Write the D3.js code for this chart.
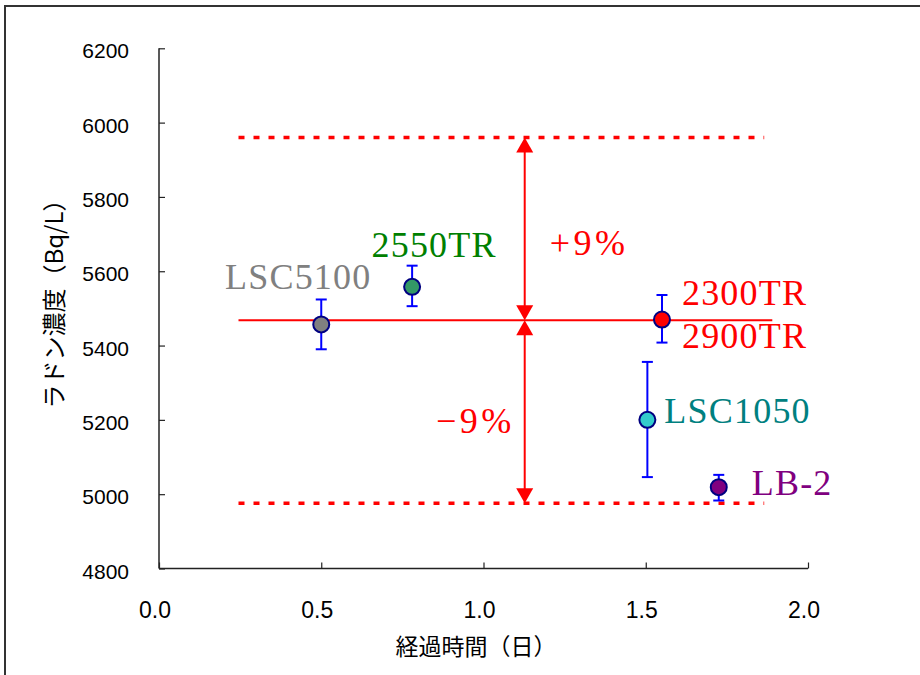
<!DOCTYPE html>
<html><head><meta charset="utf-8">
<script src="https://cdn.jsdelivr.net/npm/d3@7"></script>
<style>body{margin:0;background:#fff;} svg{display:block;}</style>
</head><body>
<svg id="c" width="920" height="675"></svg>
<script>
// ---- data ----
const labels   = ["LSC5100", "2550TR", "2300TR", "LSC1050", "LB-2"];
const elapsed  = [0.50, 0.78, 1.55, 1.505, 1.725];
const radon    = [5457, 5558, 5470, 5200, 5019];
const errHigh  = [5524, 5615, 5536, 5356, 5052];
const errLow   = [5390, 5506, 5408, 5046, 4983];
const fillCols = ["#808080", "#339966", "#ff0000", "#33cccc", "#800080"];
const textCols = ["#808080", "#008000", "#ff0000", "#008080", "#800080"];
const extraLabel = "2900TR";
const meanValue = 5468;
const bandPct = 0.09;
const lineSpan = [0.245, 1.89];
const dotSpan = [0.245, 1.865];
const arrowAt = 1.127;
const xTicks = [0, 0.5, 1.0, 1.5, 2.0];
const yTicks = [4800, 5000, 5200, 5400, 5600, 5800, 6000, 6200];
const xTitle = "経過時間（日）";
const yTitle = "ラドン濃度（Bq/L）";

const svg = d3.select("#c");
const x = d3.scaleLinear().domain([0, 2]).range([159, 808]);
const y = d3.scaleLinear().domain([4800, 6200]).range([568.5, 48.3]);

// frame
svg.append("rect").attr("x", 5).attr("y", 6).attr("width", 940).attr("height", 700)
  .attr("fill", "none").attr("stroke", "#333").attr("stroke-width", 2);

// axes
const axCol = "#222";
const yAxis = svg.append("g").attr("transform", `translate(${x(0)},0)`)
  .call(d3.axisRight(y).tickValues(yTicks).tickSize(6).tickFormat(""));
const xAxis = svg.append("g").attr("transform", `translate(0,${y(4800)})`)
  .call(d3.axisTop(x).tickValues(xTicks).tickSize(6).tickFormat(""));
[yAxis, xAxis].forEach(g => {
  g.select(".domain").attr("stroke", axCol).attr("stroke-width", 1.5);
  g.selectAll(".tick line").attr("stroke", axCol).attr("stroke-width", 1.2);
});
yAxis.select(".domain").attr("d", `M0,${y(6200)}V${y(4800)}`);
xAxis.select(".domain").attr("d", `M${x(0)},0H${x(2)}`);

svg.append("g").selectAll("text").data(yTicks).join("text")
  .attr("x", 129).attr("y", d => y(d) + 10)
  .attr("text-anchor", "end")
  .attr("font-family", "Liberation Sans, Arial, sans-serif").attr("font-size", 21)
  .attr("fill", "#000").text(d => d);
svg.append("g").selectAll("text").data(xTicks).join("text")
  .attr("x", d => x(d) - 4).attr("y", 618)
  .attr("text-anchor", "middle")
  .attr("font-family", "Liberation Sans, Arial, sans-serif").attr("font-size", 23)
  .attr("fill", "#000").text(d => d3.format(".1f")(d));

// axis titles
svg.append("text").attr("x", 476).attr("y", 655).attr("text-anchor", "middle")
  .attr("font-family", "Noto Sans CJK JP, sans-serif").attr("font-size", 23)
  .attr("fill", "#000").text(xTitle);
svg.append("text").attr("transform", "translate(63,298) rotate(-90)").attr("text-anchor", "middle")
  .attr("font-family", "Noto Sans CJK JP, sans-serif").attr("font-size", 24)
  .attr("fill", "#000").text(yTitle);

// reference lines
const hi = meanValue * (1 + bandPct), lo = meanValue * (1 - bandPct);
svg.append("line").attr("x1", x(lineSpan[0])).attr("x2", x(lineSpan[1]))
  .attr("y1", y(meanValue)).attr("y2", y(meanValue))
  .attr("stroke", "#ff0000").attr("stroke-width", 2);
[hi, lo].forEach(v => {
  svg.append("line").attr("x1", x(dotSpan[0])).attr("x2", x(dotSpan[1]))
    .attr("y1", y(v)).attr("y2", y(v))
    .attr("stroke", "#ff0000").attr("stroke-width", 3.5).attr("stroke-dasharray", "6,9");
});

// arrows
const ax = x(arrowAt);
function head(tipY, dir) { // dir -1 up, +1 down
  const L = 15, W = 8.5;
  return `M${ax},${tipY}L${ax - W},${tipY - dir * L}L${ax + W},${tipY - dir * L}Z`;
}
[[hi, meanValue], [meanValue, lo]].forEach(([a, b]) => {
  svg.append("line").attr("x1", ax).attr("x2", ax)
    .attr("y1", y(a) + 10).attr("y2", y(b) - 10)
    .attr("stroke", "#ff0000").attr("stroke-width", 2);
  svg.append("path").attr("d", head(y(a), -1)).attr("fill", "#ff0000");
  svg.append("path").attr("d", head(y(b), 1)).attr("fill", "#ff0000");
});

const serif = "Liberation Serif, Times New Roman, serif";
function lab(tx, ty, anchor, col, str, ls) {
  svg.append("text").attr("x", tx).attr("y", ty).attr("text-anchor", anchor)
    .attr("font-family", serif).attr("font-size", 36).attr("letter-spacing", ls == null ? 1.2 : ls)
    .attr("fill", col).text(str);
}
lab(ax + 25, 255, "start", "#ff0000", "+9%", 3.5);
lab(ax - 10, 433, "end", "#ff0000", "\u22129%", 3.5);

// error bars
const eb = svg.append("g");
labels.forEach((n, i) => {
  const px = x(elapsed[i]);
  eb.append("line").attr("x1", px).attr("x2", px).attr("y1", y(errHigh[i])).attr("y2", y(errLow[i]))
    .attr("stroke", "#0000ff").attr("stroke-width", 2);
  [errHigh[i], errLow[i]].forEach(v => eb.append("line")
    .attr("x1", px - 5.5).attr("x2", px + 5.5).attr("y1", y(v)).attr("y2", y(v))
    .attr("stroke", "#0000ff").attr("stroke-width", 2));
});
// points
svg.append("g").selectAll("circle").data(labels).join("circle")
  .attr("cx", (d, i) => x(elapsed[i])).attr("cy", (d, i) => y(radon[i])).attr("r", 8)
  .attr("fill", (d, i) => fillCols[i]).attr("stroke", "#000080").attr("stroke-width", 2);

// point labels
const offs = [[-23, -35, "middle"], [22, -30, "middle"], [20, -15, "start"], [17, 3, "start"], [33, 8, "start"]];
labels.forEach((n, i) => {
  lab(x(elapsed[i]) + offs[i][0], y(radon[i]) + offs[i][1], offs[i][2], textCols[i], n);
});
lab(x(elapsed[2]) + 20, y(radon[2]) + 28, "start", textCols[2], extraLabel);
</script>
</body></html>
